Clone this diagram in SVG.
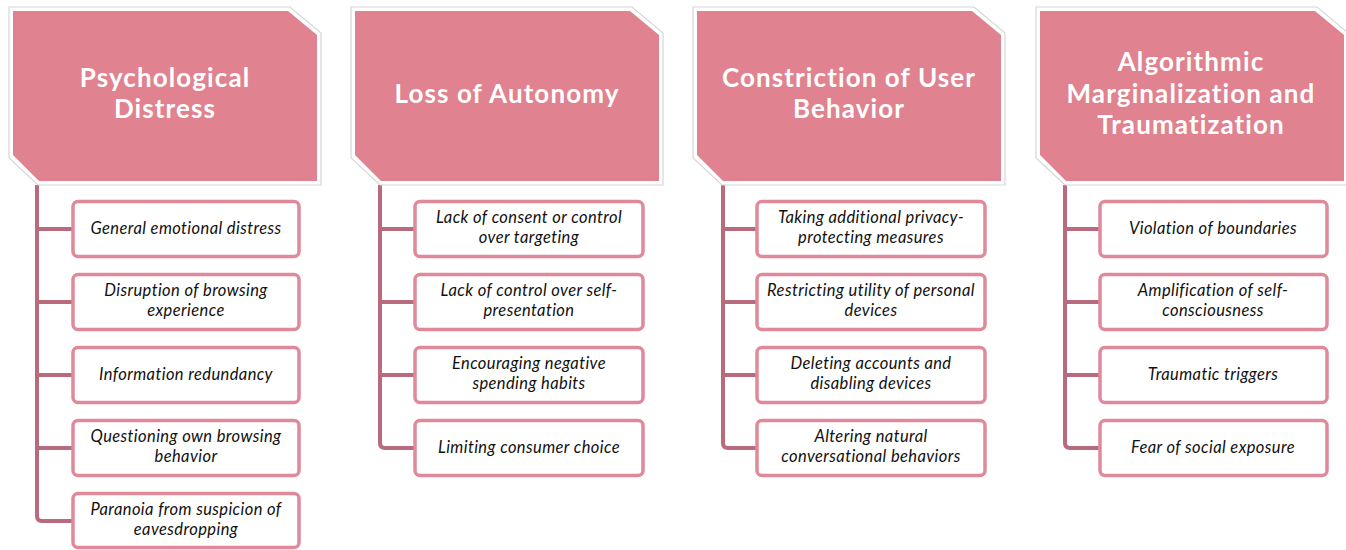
<svg xmlns="http://www.w3.org/2000/svg" width="1346" height="550" viewBox="0 0 1346 550">
<style>
.hdr-out{fill:#ffffff;stroke:#d6d6d6;stroke-width:1.2}
.hdr{fill:#e0828f}
.ht{font-family:Lato,"Open Sans","DejaVu Sans",sans-serif;font-weight:bold;font-size:26px;letter-spacing:1.1px;fill:#ffffff;text-anchor:middle}
.box{fill:#ffffff;stroke:#e0899a;stroke-width:3.5}
.bt{font-family:Lato,"Open Sans","DejaVu Sans",sans-serif;font-style:italic;font-size:16.5px;letter-spacing:0.4px;fill:#111111;text-anchor:middle}
.conn{fill:none;stroke:#b86b7c;stroke-width:4}
</style>
<defs>
<path id="hout" d="M9,7 H290 L321,33 V185 H38 L9,158 Z"/>
<path id="hin" d="M13,11 H288 L317,35 V181 H39 L13,155 Z"/>
</defs>
<g id="connectors">
<path class="conn" d="M37,185 V516 Q37,521 42,521 H73 M37,229 H73 M37,302 H73 M37,375 H73 M37,448 H73"/>
<path class="conn" d="M380,185 V443 Q380,448 385,448 H415 M380,229 H415 M380,302 H415 M380,375 H415"/>
<path class="conn" d="M723,185 V443 Q723,448 728,448 H757 M723,229 H757 M723,302 H757 M723,375 H757"/>
<path class="conn" d="M1065,185 V443 Q1065,448 1070,448 H1100 M1065,229 H1100 M1065,302 H1100 M1065,375 H1100"/>
</g>
<g id="h1">
<use href="#hout" class="hdr-out"/><use href="#hin" class="hdr"/>
<text class="ht"><tspan x="165" y="86.5">Psychological</tspan><tspan x="165" y="118">Distress</tspan></text>
</g>
<g id="h2" transform="translate(342,0)">
<use href="#hout" class="hdr-out"/><use href="#hin" class="hdr"/>
<text class="ht" x="165" y="103">Loss of Autonomy</text>
</g>
<g id="h3" transform="translate(684,0)">
<use href="#hout" class="hdr-out"/><use href="#hin" class="hdr"/>
<text class="ht"><tspan x="165" y="86.5">Constriction of User</tspan><tspan x="165" y="118">Behavior</tspan></text>
</g>
<g id="h4" transform="translate(1027,0)">
<use href="#hout" class="hdr-out"/><use href="#hin" class="hdr"/>
<text class="ht"><tspan x="164" y="71">Algorithmic</tspan><tspan x="164" y="102.5">Marginalization and</tspan><tspan x="164" y="134">Traumatization</tspan></text>
</g>
<g id="c1b1"><rect class="box" x="73" y="201.5" width="226" height="55" rx="5"/><text class="bt" x="186" y="234">General emotional distress</text></g>
<g id="c1b2"><rect class="box" x="73" y="274.5" width="226" height="55" rx="5"/><text class="bt"><tspan x="186" y="295.5">Disruption of browsing</tspan><tspan x="186" y="315.5">experience</tspan></text></g>
<g id="c1b3"><rect class="box" x="73" y="347.5" width="226" height="55" rx="5"/><text class="bt" x="186" y="380">Information redundancy</text></g>
<g id="c1b4"><rect class="box" x="73" y="420.5" width="226" height="55" rx="5"/><text class="bt"><tspan x="186" y="441.5">Questioning own browsing</tspan><tspan x="186" y="461.5">behavior</tspan></text></g>
<g id="c1b5"><rect class="box" x="73" y="493.5" width="226" height="54" rx="5"/><text class="bt"><tspan x="186" y="514.5">Paranoia from suspicion of</tspan><tspan x="186" y="534.5">eavesdropping</tspan></text></g>
<g id="c2b1"><rect class="box" x="415" y="201.5" width="228" height="55" rx="5"/><text class="bt"><tspan x="529" y="222.5">Lack of consent or control</tspan><tspan x="529" y="242.5">over targeting</tspan></text></g>
<g id="c2b2"><rect class="box" x="415" y="274.5" width="228" height="55" rx="5"/><text class="bt"><tspan x="529" y="295.5">Lack of control over self-</tspan><tspan x="529" y="315.5">presentation</tspan></text></g>
<g id="c2b3"><rect class="box" x="415" y="347.5" width="228" height="55" rx="5"/><text class="bt"><tspan x="529" y="368.5">Encouraging negative</tspan><tspan x="529" y="388.5">spending habits</tspan></text></g>
<g id="c2b4"><rect class="box" x="415" y="420.5" width="228" height="55" rx="5"/><text class="bt" x="529" y="453">Limiting consumer choice</text></g>
<g id="c3b1"><rect class="box" x="757" y="201.5" width="228" height="55" rx="5"/><text class="bt"><tspan x="871" y="222.5">Taking additional privacy-</tspan><tspan x="871" y="242.5">protecting measures</tspan></text></g>
<g id="c3b2"><rect class="box" x="757" y="274.5" width="228" height="55" rx="5"/><text class="bt"><tspan x="871" y="295.5">Restricting utility of personal</tspan><tspan x="871" y="315.5">devices</tspan></text></g>
<g id="c3b3"><rect class="box" x="757" y="347.5" width="228" height="55" rx="5"/><text class="bt"><tspan x="871" y="368.5">Deleting accounts and</tspan><tspan x="871" y="388.5">disabling devices</tspan></text></g>
<g id="c3b4"><rect class="box" x="757" y="420.5" width="228" height="55" rx="5"/><text class="bt"><tspan x="871" y="441.5">Altering natural</tspan><tspan x="871" y="461.5">conversational behaviors</tspan></text></g>
<g id="c4b1"><rect class="box" x="1100" y="201.5" width="227" height="55" rx="5"/><text class="bt" x="1213" y="234">Violation of boundaries</text></g>
<g id="c4b2"><rect class="box" x="1100" y="274.5" width="227" height="55" rx="5"/><text class="bt"><tspan x="1213" y="295.5">Amplification of self-</tspan><tspan x="1213" y="315.5">consciousness</tspan></text></g>
<g id="c4b3"><rect class="box" x="1100" y="347.5" width="227" height="55" rx="5"/><text class="bt" x="1213" y="380">Traumatic triggers</text></g>
<g id="c4b4"><rect class="box" x="1100" y="420.5" width="227" height="55" rx="5"/><text class="bt" x="1213" y="453">Fear of social exposure</text></g>
</svg>
